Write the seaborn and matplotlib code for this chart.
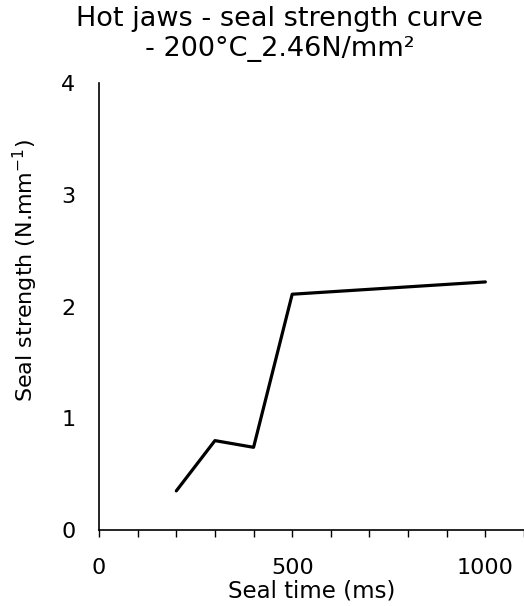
import numpy as np
import pandas as pd
import matplotlib
matplotlib.use("Agg")
import matplotlib.pyplot as plt
from matplotlib.ticker import MultipleLocator
import seaborn as sns

# Values
seal_time = [200, 300, 400, 500, 1000]
seal_strength = [0.35, 0.80, 0.74, 2.11, 2.22]
x_ticks = [0, 500, 1000]
y_ticks = [0, 1, 2, 3, 4]

df = pd.DataFrame({'Seal time (ms)': seal_time, 'Seal strength': seal_strength})

sns.set_style("ticks")
plt.rcParams['font.family'] = ['DejaVu Sans']
plt.rcParams['text.color'] = 'black'
plt.rcParams['axes.labelcolor'] = 'black'
plt.rcParams['xtick.color'] = 'black'
plt.rcParams['ytick.color'] = 'black'

fig = plt.figure(figsize=(5.24, 6.06), dpi=100)
ax = fig.add_axes([0.189, 0.1254, 0.811, 0.7376])

sns.lineplot(data=df, x='Seal time (ms)', y='Seal strength', color='black',
             linewidth=2.3, ax=ax)

ax.set_xlim(0, 1100)
ax.set_ylim(0, 4)
ax.set_xticks(x_ticks)
ax.set_yticks(y_ticks)
ax.xaxis.set_minor_locator(MultipleLocator(100))
ax.tick_params(axis='x', which='both', length=5, width=1, color='black',
               direction='out', pad=15, labelsize=16)
ax.tick_params(axis='y', which='both', length=0, pad=17, labelsize=16)
sns.despine(ax=ax)
for s in ['left', 'bottom']:
    ax.spines[s].set_color('black')
    ax.spines[s].set_linewidth(1.2)

ax.set_xlabel('Seal time (ms)', fontsize=16.5, labelpad=1)
ax.set_ylabel('Seal strength (N.mm$^{\\mathdefault{-1}}$)', fontsize=16)
ax.yaxis.set_label_coords(-0.14, 0.58)

fig.text(0.534, 0.99, 'Hot jaws - seal strength curve\n- 200°C_2.46N/mm²',
         ha='center', va='top', fontsize=19.5, linespacing=1.18)

plt.savefig("out.png", dpi=100)
plt.close()
